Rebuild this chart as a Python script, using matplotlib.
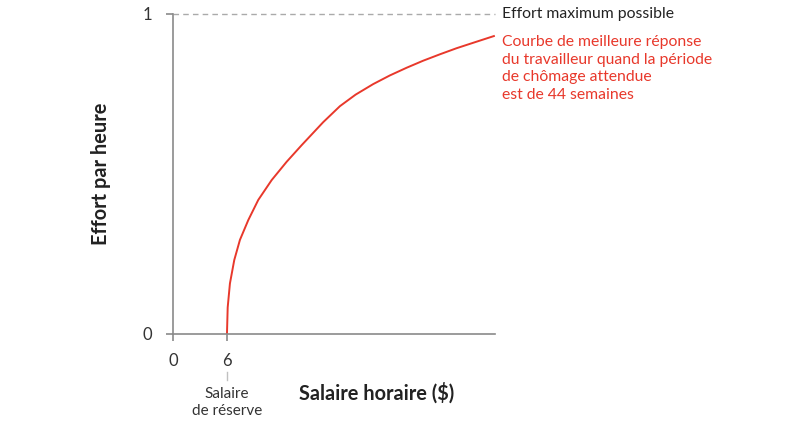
import matplotlib.pyplot as plt

# best response curve
wage = [6.0, 6.08, 6.33, 6.81, 7.44, 8.37, 9.48, 10.97, 12.63, 14.3, 16.70,
        18.56, 20.30, 22.26, 24.11, 25.97, 27.81, 29.67, 31.52, 33.37, 35.78]
effort = [0.0, 0.083, 0.158, 0.231, 0.294, 0.356, 0.419, 0.481, 0.538, 0.590,
          0.662, 0.712, 0.748, 0.781, 0.808, 0.832, 0.854, 0.874, 0.893, 0.910,
          0.932]

xticks = [0, 6]
yticks = [0, 1]
x_max = 35.8
reserve_wage = 6

red = '#e8382b'
axis_grey = '#8a8a8a'
font = 'Lato'

fig = plt.figure(figsize=(8.09, 4.28), dpi=100)
ax = fig.add_axes([173 / 809, 1 - 334 / 428, 322 / 809, 320 / 428])
ax.set_xlim(0, x_max)
ax.set_ylim(0, 1)

ax.plot(wage, effort, color=red, lw=1.4, solid_capstyle='butt',
        solid_joinstyle='round', clip_on=False)
ax.plot([0, x_max], [1, 1], color='#aaaaaa', lw=1, ls=(0, (4, 3)), clip_on=False)

for s in ['top', 'right']:
    ax.spines[s].set_visible(False)
for s in ['left', 'bottom']:
    ax.spines[s].set_color(axis_grey)
    ax.spines[s].set_linewidth(1.2)

ax.set_xticks(xticks)
ax.set_yticks(yticks)
ax.tick_params(colors=axis_grey, length=5, width=1.2, labelsize=12,
               labelcolor='#333333')
ax.tick_params(axis='x', pad=9)
ax.tick_params(axis='y', pad=10)
for lab in ax.get_xticklabels() + ax.get_yticklabels():
    lab.set_family(font)

ax.set_xlabel('Salaire horaire ($)', fontsize=14.4, fontweight='bold',
              family=font, color='#222222')
ax.xaxis.set_label_coords((377 - 173) / 322, -(393 - 334) / 320)
ax.xaxis.label.set_va('center')

ax.set_ylabel('Effort par heure', fontsize=14.4, fontweight='bold', family=font,
              color='#222222')
ax.yaxis.set_label_coords(-(173 - 101) / 322, 0.5)
ax.yaxis.label.set_va('center')

# reservation wage note
ax.plot([reserve_wage, reserve_wage], [-38 / 320, -46 / 320], color='#c0c0c0',
        lw=1, clip_on=False)
ax.text(reserve_wage, -53 / 320, 'Salaire\nde réserve', ha='center', va='top',
        fontsize=11, family=font, color='#333333', linespacing=1.3)

ax.text(x_max + 0.8, 1, 'Effort maximum possible', ha='left', va='center',
        fontsize=11.3, family=font, color='#222222')
ax.text(x_max + 0.8, 0.935,
        'Courbe de meilleure réponse\ndu travailleur quand la période\n'
        'de chômage attendue\nest de 44 semaines',
        ha='left', va='top', fontsize=11.3, family=font, color=red,
        linespacing=1.34)

fig.savefig('out.png', dpi=100)
